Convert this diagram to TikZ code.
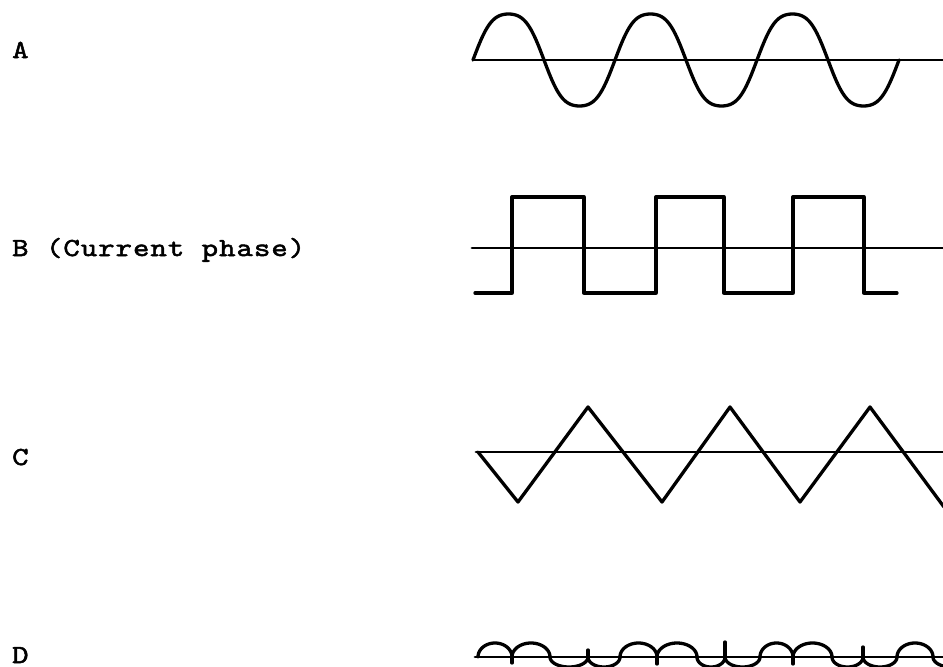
\documentclass[tikz,border=0pt]{standalone}
\usepackage{fontspec}
\newfontfamily\lblfont{lmmono10-regular.otf}[FakeStretch=1.2,LetterSpace=4,FakeBold=2]
\begin{document}
\begin{tikzpicture}[x=1pt,y=-1pt,
  wave/.style={line width=3.3pt, line join=round, line cap=round},
  axisline/.style={line width=2.8pt, line cap=round},
  lbl/.style={anchor=base west, inner sep=0pt,
    font=\lblfont\fontsize{26}{26}\selectfont}]
\useasboundingbox (0,0) rectangle (943,667);
\fill[white] (0,0) rectangle (943,667);
\clip (0,0) rectangle (943,667);

% labels
\node[lbl] (la) at (12,58) {A};
\node[lbl] (lb) at (12,256) {B (Current phase)};
\node[lbl] (lc) at (12,465) {C};
\node[lbl] (ld) at (12,663) {D};

% A: sine-like wave with flattened crests
\draw[axisline] (473,60) -- (943,60);
\draw[wave] plot[domain=0:426, samples=281, smooth]
  ({473+\x},{60-46*(sin(\x/142*360)+0.07*sin(\x/142*1080))/0.93});

% B: square wave
\draw[axisline] (472,248) -- (943,248);
\draw[wave] (475,293) -- (512,293) -- (512,197) -- (584,197) -- (584,293)
  -- (656,293) -- (656,197) -- (724,197) -- (724,293) -- (793,293)
  -- (793,197) -- (864,197) -- (864,293) -- (897,293);

% C: triangle wave
\draw[axisline] (476,452) -- (943,452);
\draw[wave] (478,452) -- (518,502) -- (588,407) -- (662,502) -- (730,407)
  -- (800,502) -- (870,407) -- (944,507);

% D: ripple wave
\draw[axisline] (475,657) -- (943,657);
\foreach \a/\b/\h in {478/512/-14, 512/550/-14, 550/588/10, 588/620/10,
  620/657/-14, 657/697/-14, 697/725/10, 725/760/10, 760/793/-14,
  793/832/-14, 832/863/10, 863/897/10, 897/933/-14, 933/969/10}
  \draw[wave] plot[domain=0:180, samples=40]
    ({(\a+\b)/2-(\b-\a)/2*cos(\x)},{657+\h*sin(\x)});
\draw[wave] (512,657) -- (512,663);
\draw[wave] (657,657) -- (657,664);
\draw[wave] (793,657) -- (793,664);
\draw[wave] (588,657) -- (588,650);
\draw[wave] (725,657) -- (725,642);
\draw[wave] (863,657) -- (863,647);
\end{tikzpicture}
\end{document}
